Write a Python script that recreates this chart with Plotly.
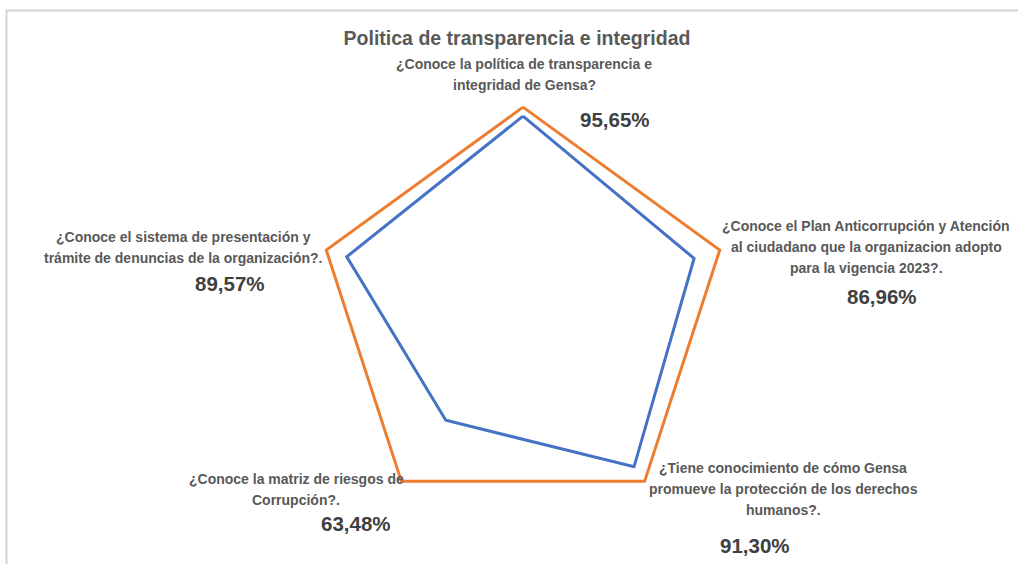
import plotly.graph_objects as go

# preguntas (sentido horario desde arriba)
preguntas = [
    ["¿Conoce la política de transparencia e", "integridad de Gensa?"],
    ["¿Conoce el Plan Anticorrupción y Atención", "al ciudadano que la organizacion adopto", "para la vigencia 2023?."],
    ["¿Tiene conocimiento de cómo Gensa", "promueve la protección de los derechos", "humanos?."],
    ["¿Conoce la matriz de riesgos de", "Corrupción?."],
    ["¿Conoce el sistema de presentación y", "trámite de denuncias de la organización?."],
]
resultado = [95.65, 86.96, 91.30, 63.48, 89.57]
meta = [100, 100, 100, 100, 100]
etiquetas_pct = ["95,65%", "86,96%", "91,30%", "63,48%", "89,57%"]

W, H = 1018, 564
COR_AZUL = '#4472C4'
COR_NARANJA = '#ED7D31'
COR_TEXTO = '#595959'
FUENTE = 'Liberation Sans'

ejes = [" ".join(p) for p in preguntas]

fig = go.Figure()
fig.add_trace(go.Scatterpolar(
    r=meta + meta[:1], theta=ejes + ejes[:1],
    mode='lines', line=dict(color=COR_NARANJA, width=3), name='Meta'
))
fig.add_trace(go.Scatterpolar(
    r=resultado + resultado[:1], theta=ejes + ejes[:1],
    mode='lines', line=dict(color=COR_AZUL, width=3), name='Resultado'
))

# centro y radio del radar en pixeles (rango hasta 102 para no recortar la linea)
cx, cy, rad = 523, 314, 211
fig.update_layout(
    width=W, height=H,
    margin=dict(l=0, r=0, t=0, b=0),
    paper_bgcolor='white', plot_bgcolor='white',
    showlegend=False,
    polar=dict(
        domain=dict(x=[(cx - rad) / W, (cx + rad) / W],
                    y=[1 - (cy + rad) / H, 1 - (cy - rad) / H]),
        gridshape='linear',
        bgcolor='white',
        radialaxis=dict(range=[0, 102], visible=False),
        angularaxis=dict(rotation=90, direction='clockwise', showline=False,
                         showgrid=False, showticklabels=False, ticks=''),
    ),
    title=dict(text='<b>Politica de transparencia e integridad</b>',
               x=517 / W, xanchor='center', y=1 - 38 / H, yanchor='middle',
               font=dict(family=FUENTE, size=19.5, color=COR_TEXTO)),
)

# posiciones de los textos (px): centro x, y primera linea; x,y del porcentaje
pos_texto = [(524, 64), (866, 226), (783, 468), (296, 479), (183, 237)]
pos_pct = [(615, 119), (882, 296), (755, 545), (356, 523), (230, 283)]
paso = 21

for lineas, (tx, ty), (px, py), pct in zip(preguntas, pos_texto, pos_pct, etiquetas_pct):
    for k, linea in enumerate(lineas):
        fig.add_annotation(
            text=f'<b>{linea}</b>', x=tx / W, y=1 - (ty + k * paso) / H,
            xref='paper', yref='paper', showarrow=False,
            xanchor='center', yanchor='middle',
            font=dict(family=FUENTE, size=14, color=COR_TEXTO))
    fig.add_annotation(
        text=f'<b>{pct}</b>', x=px / W, y=1 - py / H,
        xref='paper', yref='paper', showarrow=False,
        xanchor='center', yanchor='middle',
        font=dict(family=FUENTE, size=20.5, color='#404040'))

# marco del grafico
fig.add_shape(type='rect', xref='paper', yref='paper',
              x0=6.5 / W, x1=1.01, y0=-0.01, y1=1 - 10.5 / H,
              line=dict(color='#D4D4D4', width=2))

fig.write_html("out.html", config={'displayModeBar': False},
               post_script="document.body.style.margin='0';")
